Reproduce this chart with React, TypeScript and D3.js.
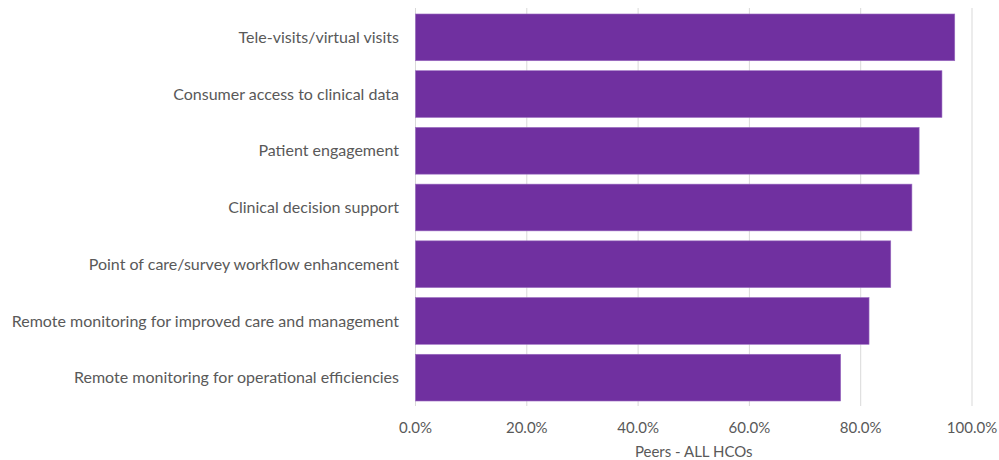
import React from "react";
import * as d3 from "d3";

const categories = [
  "Tele-visits/virtual visits",
  "Consumer access to clinical data",
  "Patient engagement",
  "Clinical decision support",
  "Point of care/survey workflow enhancement",
  "Remote monitoring for improved care and management",
  "Remote monitoring for operational efficiencies",
];
const values = [0.969, 0.946, 0.905, 0.892, 0.854, 0.815, 0.764];
const xTicks = [0, 0.2, 0.4, 0.6, 0.8, 1.0];
const axisTitle = "Peers - ALL HCOs";

const W = 999;
const H = 460;
const margin = { left: 415.5, right: 27, top: 9, bottom: 54 };

export default function App() {
  const x = d3.scaleLinear().domain([0, 1]).range([margin.left, W - margin.right]);
  const y = d3
    .scaleBand<string>()
    .domain(categories)
    .range([margin.top, H - margin.bottom])
    .paddingInner(0.176)
    .paddingOuter(0.088);
  const fmt = d3.format(".1%");
  const font = "Lato, 'Open Sans', sans-serif";
  const textColor = "#595959";
  const gridTop = margin.top - 1;
  const gridBottom = H - margin.bottom;

  return (
    <div style={{ position: "absolute", left: 0, top: 0 }}>
      <svg width={W} height={H} style={{ display: "block", background: "#fff" }}>
        {xTicks.map((t) => (
          <line
            key={"g" + t}
            x1={x(t)}
            x2={x(t)}
            y1={gridTop}
            y2={gridBottom}
            stroke="#d9d9d9"
            strokeWidth={1}
          />
        ))}
        {categories.map((c, i) => (
          <rect
            key={c}
            x={x(0)}
            y={y(c)}
            width={x(values[i]) - x(0)}
            height={y.bandwidth()}
            fill="#7030A0"
            stroke="#9a6cc0"
            strokeWidth={0.6}
          />
        ))}
        {categories.map((c) => (
          <text
            key={"l" + c}
            x={399}
            y={(y(c) as number) + y.bandwidth() / 2}
            dy="0.35em"
            textAnchor="end"
            fontFamily={font}
            fontSize={16}
            fill={textColor}
          >
            {c}
          </text>
        ))}
        {xTicks.map((t) => (
          <text
            key={"t" + t}
            x={x(t)}
            y={433}
            textAnchor="middle"
            fontFamily={font}
            fontSize={15}
            fill={textColor}
          >
            {fmt(t)}
          </text>
        ))}
        <text
          x={(x(0) + x(1)) / 2}
          y={457}
          textAnchor="middle"
          fontFamily={font}
          fontSize={15}
          fill={textColor}
        >
          {axisTitle}
        </text>
      </svg>
    </div>
  );
}
